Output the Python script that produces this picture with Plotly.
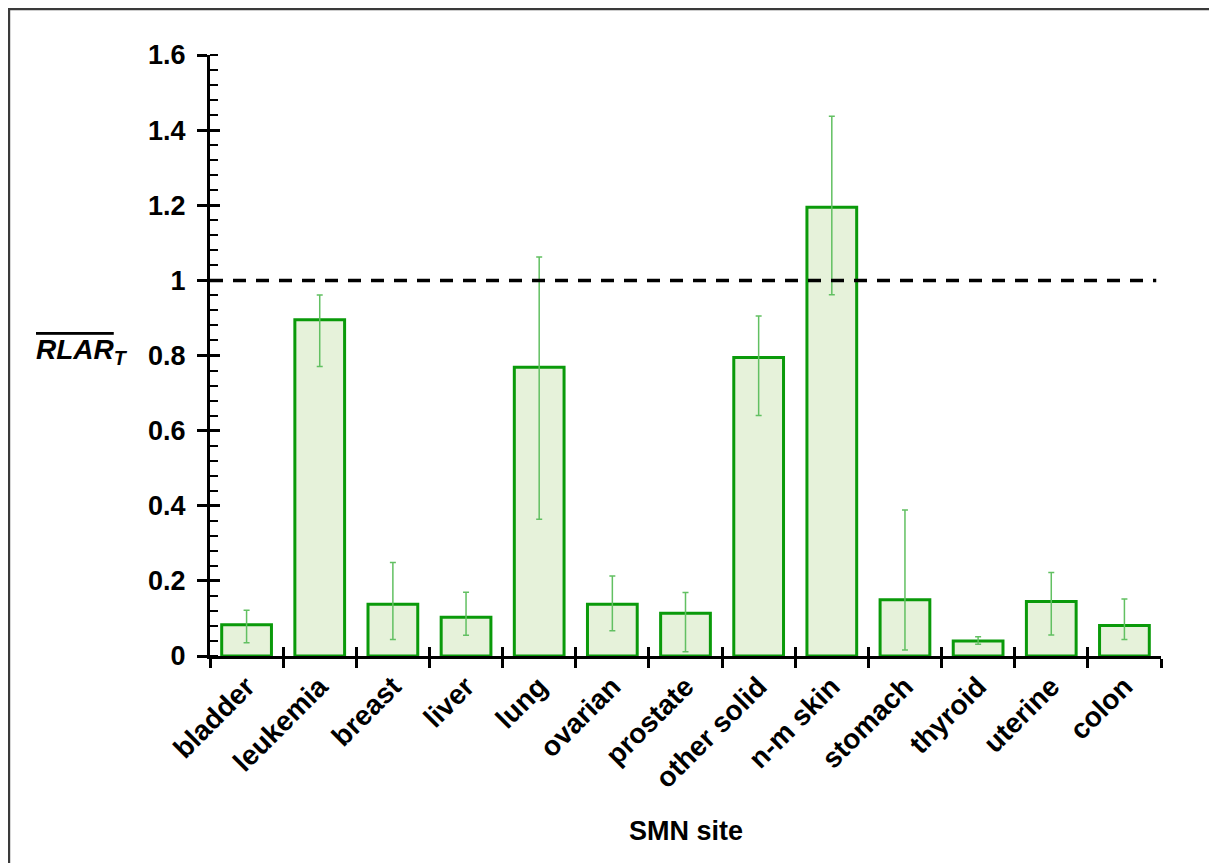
import plotly.graph_objects as go

categories = ["bladder", "leukemia", "breast", "liver", "lung", "ovarian", "prostate",
              "other solid", "n-m skin", "stomach", "thyroid", "uterine", "colon"]
values = [0.083, 0.895, 0.138, 0.103, 0.769, 0.138, 0.114, 0.795, 1.195, 0.150, 0.040, 0.145, 0.081]
err_high = [0.122, 0.961, 0.249, 0.170, 1.062, 0.213, 0.169, 0.905, 1.437, 0.389, 0.051, 0.222, 0.152]
err_low = [0.035, 0.771, 0.044, 0.055, 0.364, 0.067, 0.011, 0.640, 0.962, 0.016, 0.031, 0.056, 0.044]
reference_level = 1.0

y_tick_vals = [0, 0.2, 0.4, 0.6, 0.8, 1.0, 1.2, 1.4, 1.6]
y_tick_text = ["0", "0.2", "0.4", "0.6", "0.8", "1", "1.2", "1.4", "1.6"]

err_plus = [h - v for h, v in zip(err_high, values)]
err_minus = [v - l for v, l in zip(values, err_low)]

FONT = "Liberation Sans, Arial, sans-serif"
BAR_LINE = "#0a9a0a"
BAR_FILL = "#e6f2da"
ERR_COLOR = "#62c062"

fig = go.Figure()
fig.add_trace(go.Bar(
    x=categories, y=values, width=0.68,
    marker=dict(color=BAR_FILL, line=dict(color=BAR_LINE, width=3)),
    error_y=dict(type="data", array=err_plus, arrayminus=err_minus,
                 color=ERR_COLOR, thickness=1.5, width=3),
    showlegend=False, hoverinfo="x+y",
))
# invisible trace for the overlay axes (crossing ticks)
fig.add_trace(go.Scatter(x=[0], y=[0], xaxis="x2", yaxis="y2", mode="markers",
                         marker=dict(opacity=0), showlegend=False, hoverinfo="skip"))

fig.add_shape(type="line", xref="x domain", yref="y", x0=0, x1=0.995,
              y0=reference_level, y1=reference_level,
              line=dict(color="black", width=3.5, dash="13px,10px"))

# figure frame
fig.add_shape(type="rect", xref="paper", yref="paper",
              x0=-0.2114, x1=1.0547, y0=-0.45, y1=1.0765,
              line=dict(color="#3a3a3a", width=2.5), layer="below")

fig.add_annotation(
    text='<b><i><span style="text-decoration:overline">RLAR</span><sub>T</sub></i></b>',
    xref="paper", yref="y", x=-0.084, y=0.8, xanchor="right", yanchor="middle",
    yshift=4, showarrow=False, font=dict(family=FONT, size=28, color="black"))
fig.add_annotation(
    text="<b>SMN site</b>", xref="paper", yref="paper", x=0.5, y=-0.291,
    xanchor="center", yanchor="middle", showarrow=False,
    font=dict(family=FONT, size=27, color="black"))

fig.update_layout(
    width=1217, height=863,
    margin=dict(l=202, r=64, t=47, b=215, autoexpand=False),
    plot_bgcolor="white", paper_bgcolor="white",
    font=dict(family=FONT, size=26, color="black"),
    xaxis=dict(
        type="category", categoryorder="array", categoryarray=categories,
        range=[-0.5, 12.5], tickson="boundaries",
        showline=True, linecolor="black", linewidth=3,
        ticks="outside", ticklen=9, tickwidth=2.5, tickcolor="black",
        tickangle=-45, tickfont=dict(family=FONT, size=28, color="black"),
        tickprefix="<b>", ticksuffix="</b>",
        showgrid=False, zeroline=False, fixedrange=True,
    ),
    xaxis2=dict(
        overlaying="x", anchor="y", side="bottom", range=[-0.5, 12.5],
        tick0=-0.5, dtick=1, ticks="inside", ticklen=9, tickwidth=2.5, tickcolor="black",
        showticklabels=False, showgrid=False, zeroline=False, showline=False,
    ),
    yaxis=dict(
        range=[0, 1.6], tickvals=y_tick_vals, ticktext=["<b>%s</b>" % t for t in y_tick_text],
        showline=True, linecolor="black", linewidth=3,
        ticks="outside", ticklen=10, tickwidth=2.5, tickcolor="black",
        ticklabelstandoff=6,
        tickfont=dict(family=FONT, size=27, color="black"),
        minor=dict(ticks="inside", dtick=0.04, tick0=0, ticklen=8, tickwidth=2, tickcolor="black",
                   showgrid=False),
        showgrid=False, zeroline=False, fixedrange=True,
    ),
    yaxis2=dict(
        overlaying="y", anchor="x", side="left", range=[0, 1.6],
        tick0=0, dtick=0.2, ticks="inside", ticklen=10, tickwidth=2.5, tickcolor="black",
        showticklabels=False, showgrid=False, zeroline=False, showline=False,
    ),
)

fig.write_html("out.html")
